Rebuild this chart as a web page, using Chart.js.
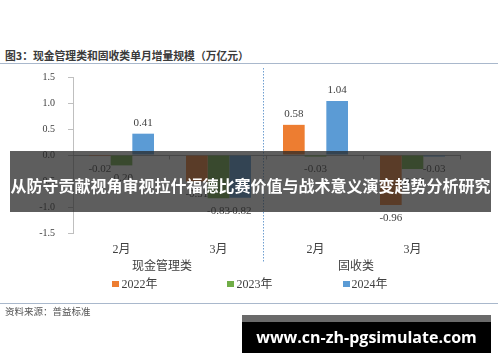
<!DOCTYPE html>
<html><head><meta charset="utf-8">
<script src="https://cdn.jsdelivr.net/npm/chart.js@4.4.0/dist/chart.umd.min.js"></script>
<style>
html,body{margin:0;padding:0;background:#fff;}
#wrap{position:relative;width:500px;height:362px;overflow:hidden;background:#fff;}
#c{position:absolute;left:0;top:0;}
#title{position:absolute;left:5px;top:47px;font:bold 10.8px "Noto Sans CJK SC",sans-serif;color:#3a3a3a;white-space:nowrap;}
#tline{position:absolute;left:0;top:63px;width:498px;height:1px;background:#a9b8cc;}
#bline{position:absolute;left:0;top:303px;width:498px;height:1px;background:#a9b8cc;}
#src{position:absolute;left:5px;top:304px;font:9.5px "Noto Sans CJK SC",sans-serif;color:#555;white-space:nowrap;}
#banner{position:absolute;left:10px;top:151px;width:481px;height:61px;background:rgba(38,38,38,0.74);}
#banner span{position:absolute;left:0;width:481px;top:21px;text-align:center;font:bold 16px "Noto Sans CJK SC",sans-serif;color:#fff;line-height:26px;white-space:nowrap;}
#url{position:absolute;left:242px;top:315px;width:249px;height:38px;background:#000;}
#url .strip{position:absolute;left:0;top:0;width:249px;height:7px;background:#6a6a6a;}
#url span{position:absolute;left:0;width:249px;top:12px;text-align:center;font:bold 16px "Open Sans",sans-serif;color:#fff;line-height:20px;white-space:nowrap;}
</style></head><body>
<div id="wrap">
<div id="title">图3：现金管理类和固收类单月增量规模（万亿元）</div>
<div id="tline"></div>
<canvas id="c" width="500" height="362"></canvas>
<div id="bline"></div>
<div id="src">资料来源：普益标准</div>
<div id="banner"><span>从防守贡献视角审视拉什福德比赛价值与战术意义演变趋势分析研究</span></div>
<div id="url"><div class="strip"></div><span>www.cn-zh-pgsimulate.com</span></div>
</div>
<script>
const categories = ['2月', '3月', '2月', '3月'];
const groupNames = ['现金管理类', '固收类'];
const seriesNames = ['2022年', '2023年', '2024年'];
const values2022 = [-0.02, -0.51, 0.58, -0.96];
const values2023 = [-0.20, -0.83, -0.03, -0.27];
const values2024 = [0.41, -0.82, 1.04, -0.03];
const yTickValues = [-1.5, -1.0, -0.5, 0.0, 0.5, 1.0, 1.5];
const seriesColors = ['#ED7D31', '#70AD47', '#5B9BD5'];

const serif = '"Liberation Serif", "Noto Sans CJK SC", serif';
const cjk = '"Noto Sans CJK SC", sans-serif';
const txt = '#404040';

const extras = {
  id: 'extras',
  beforeDatasetsDraw(chart) {
    const ctx = chart.ctx, ca = chart.chartArea;
    const x = chart.scales.x, y = chart.scales.y;
    const y0 = Math.round(y.getPixelForValue(0)) + 0.5;
    ctx.save();
    ctx.strokeStyle = '#a6a6a6';
    ctx.lineWidth = 1;
    ctx.beginPath();
    ctx.moveTo(ca.left, y0); ctx.lineTo(ca.right, y0);
    const n = categories.length;
    for (let i = 1; i <= n; i++) {
      const bx = Math.round(i < n ? (x.getPixelForValue(i - 1) + x.getPixelForValue(i)) / 2 : ca.right) - 0.5;
      ctx.moveTo(bx, y0); ctx.lineTo(bx, y0 + 4);
    }
    ctx.stroke();
    ctx.restore();
  },
  afterDatasetsDraw(chart) {
    const ctx = chart.ctx;
    const x = chart.scales.x;
    ctx.save();
    ctx.font = '11px ' + serif;
    ctx.fillStyle = txt;
    ctx.textAlign = 'center';
    ctx.textBaseline = 'middle';
    chart.data.datasets.forEach((ds, di) => {
      const meta = chart.getDatasetMeta(di);
      meta.data.forEach((bar, i) => {
        const v = ds.data[i];
        const s = v.toFixed(2);
        ctx.fillText(s, bar.x, v >= 0 ? bar.y - 11 : bar.y + 13);
      });
    });
    // group labels
    ctx.font = '12px ' + cjk;
    groupNames.forEach((g, gi) => {
      const cx = (x.getPixelForValue(gi * 2) + x.getPixelForValue(gi * 2 + 1)) / 2 - 8;
      ctx.fillText(g, cx, 265);
    });
    // dotted separator
    const sx = Math.round((x.getPixelForValue(1) + x.getPixelForValue(2)) / 2) - 3.5;
    ctx.strokeStyle = '#6f9fd0';
    ctx.lineWidth = 1;
    ctx.setLineDash([1.5, 1.5]);
    ctx.beginPath(); ctx.moveTo(sx, 68); ctx.lineTo(sx, 262); ctx.stroke();
    ctx.setLineDash([]);
    // legend
    ctx.font = '12px ' + serif;
    const box = 7, gap = 2, spacing = 70;
    const items = chart.data.datasets.map(ds => ({label: ds.label, color: ds.backgroundColor, w: box + gap + ctx.measureText(ds.label).width}));
    const total = items.reduce((a, it) => a + it.w, 0) + spacing * (items.length - 1);
    let lx = 250 - total / 2;
    const ly = 284;
    ctx.textAlign = 'left';
    items.forEach(it => {
      ctx.fillStyle = it.color;
      ctx.fillRect(Math.round(lx), ly - 3, box, 6);
      ctx.fillStyle = txt;
      ctx.fillText(it.label, lx + box + gap, ly + 1);
      lx += it.w + spacing;
    });
    ctx.restore();
  }
};

new Chart(document.getElementById('c'), {
  type: 'bar',
  data: {
    labels: categories,
    datasets: [
      {label: seriesNames[0], data: values2022, backgroundColor: seriesColors[0]},
      {label: seriesNames[1], data: values2023, backgroundColor: seriesColors[1]},
      {label: seriesNames[2], data: values2024, backgroundColor: seriesColors[2]}
    ]
  },
  options: {
    responsive: false,
    animation: false,
    devicePixelRatio: 1,
    layout: {padding: {left: 33, right: 39, top: 77, bottom: 99}},
    datasets: {bar: {categoryPercentage: 0.67, barPercentage: 1.0, borderWidth: 0}},
    plugins: {legend: {display: false}, title: {display: false}, tooltip: {enabled: false}},
    scales: {
      x: {
        type: 'category',
        offset: true,
        grid: {display: false, drawTicks: false, tickLength: 0},
        border: {display: false},
        ticks: {font: {size: 12, family: serif}, color: txt, padding: 10, maxRotation: 0},
        afterFit(s) { s.height = 30; }
      },
      y: {
        min: -1.5, max: 1.5,
        afterBuildTicks(s) { s.ticks = yTickValues.map(v => ({value: v})); },
        grid: {drawOnChartArea: false, drawTicks: true, tickLength: 5, color: '#bfbfbf'},
        border: {display: true, color: '#bfbfbf'},
        ticks: {font: {size: 10, family: serif}, color: txt, padding: 13, callback: v => Number(v).toFixed(1)},
        afterFit(s) { s.width = 40; }
      }
    }
  },
  plugins: [extras]
});
</script>
</body></html>
